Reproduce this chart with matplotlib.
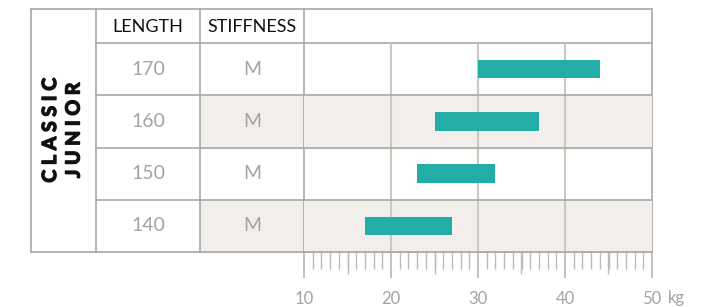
import matplotlib
matplotlib.use('Agg')
import matplotlib.pyplot as plt
from matplotlib.patches import Rectangle
import matplotlib.patheffects as pe
import matplotlib.transforms as mtransforms

plt.rcParams['font.family'] = ['Lato', 'DejaVu Sans']

# data
lengths = ['170', '160', '150', '140']
stiffness = ['M', 'M', 'M', 'M']
weight_min = [30, 25, 23, 17]
weight_max = [44, 37, 32, 27]
headers = ['LENGTH', 'STIFFNESS']
group_label = ['CLASSIC', 'JUNIOR']
x_ticks = [10, 20, 30, 40, 50]

W, H = 725, 307
line_c = '#a8a8a8'
grid_c = '#cbc7c3'
shade_c = '#f2eee9'
bar_c = '#22aea6'
text_c = '#a3a3a3'

# layout in pixels
left, c1, c2, c3, right = 31, 96, 200, 304, 652
top, head_bot, bottom = 9, 43, 252
row_h = (bottom - head_bot) / len(lengths)

fig = plt.figure(figsize=(W / 100, H / 100), dpi=100)

# table layer
tab = fig.add_axes([0, 0, 1, 1])
tab.set_xlim(0, W)
tab.set_ylim(H, 0)
tab.axis('off')

for i in range(len(lengths)):
    y0 = head_bot + i * row_h
    if i % 2 == 1:
        tab.add_patch(Rectangle((c2, y0), c3 - c2, row_h, color=shade_c, zorder=0))
    yc = y0 + row_h / 2
    tab.text((c1 + c2) / 2, yc, lengths[i], ha='center', va='center',
             fontsize=14, color=text_c)
    tab.text((c2 + c3) / 2, yc, stiffness[i], ha='center', va='center',
             fontsize=14, color=text_c)

lw = 1.2
tab.plot([left, right], [top, top], color=line_c, lw=lw)
tab.plot([left, right], [bottom, bottom], color=line_c, lw=lw)
tab.plot([c1, right], [head_bot, head_bot], color=line_c, lw=lw)
for i in range(1, len(lengths)):
    y = head_bot + i * row_h
    tab.plot([c1, c3], [y, y], color=line_c, lw=lw)
for x in [left, c1, c2, c3, right]:
    tab.plot([x, x], [top, bottom], color=line_c, lw=lw)

tab.text((c1 + c2) / 2, (top + head_bot) / 2 + 1, headers[0], ha='center', va='center',
         fontsize=13, color='#111111')
tab.text((c2 + c3) / 2, (top + head_bot) / 2 + 1, headers[1], ha='center', va='center',
         fontsize=13, color='#111111')

for k, word in enumerate(group_label):
    tab.text(50.5 + k * 23.5, 130, ' '.join(word), rotation=90, ha='center', va='center',
             fontsize=14, fontweight='bold', color='#111111',
             path_effects=[pe.withStroke(linewidth=1.0, foreground='#111111')])

# chart
ax = fig.add_axes([c3 / W, (H - bottom) / H, (right - c3) / W, (bottom - head_bot) / H])
ax.patch.set_alpha(0)
ax.set_xlim(10, 50)
ax.set_ylim(len(lengths) - 0.5, -0.5)
ypos = list(range(len(lengths)))
for i in ypos:
    if i % 2 == 1:
        ax.axhspan(i - 0.5, i + 0.5, color=shade_c, zorder=0)
for x in x_ticks[1:-1]:
    ax.axvline(x, color=grid_c, lw=1.5, zorder=1)
for i in ypos[1:]:
    ax.axhline(i - 0.5, color=line_c, lw=lw, zorder=2)
widths = [b - a for a, b in zip(weight_min, weight_max)]
ax.barh(ypos, widths, left=weight_min, height=0.35, color=bar_c, zorder=3)

for s in ['top', 'left', 'right']:
    ax.spines[s].set_visible(False)
ax.spines['bottom'].set_color(line_c)
ax.spines['bottom'].set_linewidth(lw)
ax.set_yticks([])
ax.set_xticks(x_ticks)
ax.set_xticks(range(10, 51), minor=True)
ax.tick_params(axis='x', which='major', length=19, width=1.3, color='#bdbab7',
               labelcolor=text_c, labelsize=12, pad=9)
ax.tick_params(axis='x', which='minor', length=12, width=1.0, color='#bdbab7')

sec = ax.secondary_xaxis('bottom')
sec.set_xticks([15, 25, 35, 45])
sec.tick_params(length=16, width=1.0, color='#bdbab7', labelbottom=False)
sec.spines['bottom'].set_visible(False)

trans = mtransforms.blended_transform_factory(ax.transData, ax.transAxes)
ax.annotate('kg', xy=(50, 0), xycoords=trans, xytext=(11.5, -33), textcoords='offset points',
            ha='left', va='center', fontsize=12, color=text_c, annotation_clip=False)

fig.savefig('out.png', dpi=100)
